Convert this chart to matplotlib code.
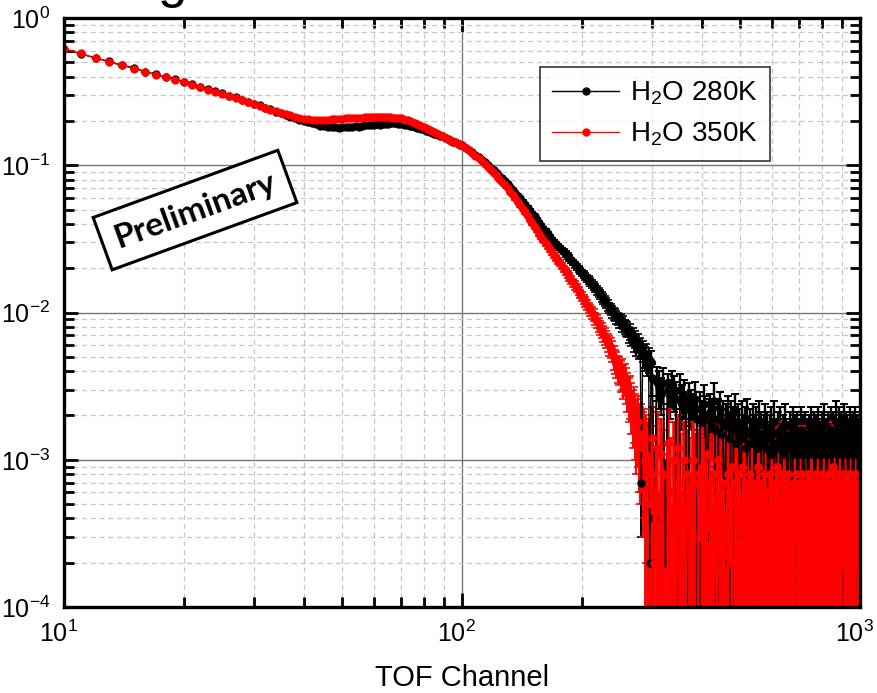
import numpy as np
import matplotlib
matplotlib.use("Agg")
import matplotlib.pyplot as plt
import matplotlib.transforms as mtransforms
from matplotlib.ticker import LogLocator, NullFormatter

# TOF channels: every channel below 100, thinned above
ch_front = np.arange(10, 100)
ch_mid = np.arange(100, 300, 2)
ch_tail = np.arange(300, 1001, 4)

# ---- H2O 280K (front in 1e-3, mid/tail in 1e-4) ----
k280_front = [612, 572, 534, 508, 476, 460, 431, 416, 396, 386,
              367, 357, 340, 331, 317, 309, 296, 289, 278, 271,
              260, 255, 245, 240, 231, 227, 219, 214, 209, 204,
              200, 196, 193, 190, 186, 184, 183, 181, 182, 180,
              181, 182, 181, 183, 184, 183, 185, 187, 188, 187,
              189, 190, 189, 191, 192, 191, 193, 194, 193, 192,
              191, 190, 188, 187, 185, 184, 182, 180, 178, 177,
              175, 172, 170, 168, 166, 164, 162, 160, 158, 157,
              155, 153, 151, 149, 147, 145, 143, 141, 139, 137]
k280_mid = [1370, 1320, 1275, 1230, 1180, 1135, 1090, 1045, 1000, 965,
            925, 890, 850, 815, 780, 745, 710, 680, 650, 620,
            595, 565, 540, 515, 492, 470, 450, 428, 408, 390,
            372, 356, 340, 325, 312, 300, 290, 282, 275, 266,
            258, 250, 242, 234, 226, 219, 212, 204, 198, 192,
            186, 181, 176, 171, 166, 161, 157, 152, 147, 142,
            137, 133, 128, 124, 120, 116, 112, 108, 105, 101,
            98, 96, 93, 91, 87, 88, 83, 86, 80, 78,
            77, 71, 74, 68, 70, 63, 66, 60, 62, 57,
            58, 7, 55, 51, 49, 52, 46, 48, 2, 46]
k280_tail = [36, 4, 34, 31, 28, 33, 2, 30, 27, 31,
             29, 26, -3, 30, 24, 27, 22, 1, 25, 23,
             21, 26, 19, -2, 22, 18, 24, 20, 3, 19,
             21, 17, 25, 16, -4, 19, 22, 15, 18, 2,
             17, 20, 14, 18, -1, 16, 21, 13, 17, 15,
             3, 18, 14, 16, 12, 19, -2, 15, 13, 17,
             14, 1, 16, 12, 18, 13, 15, -3, 14, 17,
             12, 15, 2, 14, 16, 11, 13, 18, -1, 12,
             15, 13, 16, 0, 12, 14, 11, 17, 13, 4,
             12, 15, 13, -2, 16, 11, 14, 12, 15, 1,
             13, 11, 16, 12, 14, -3, 12, 15, 11, 13,
             2, 14, 12, 16, 11, 13, 15, 0, 12, 14,
             11, 16, 13, 12, -2, 15, 11, 14, 17, 12,
             13, 3, 15, 12, 14, 11, 16, -1, 13, 15,
             12, 14, 18, 11, 2, 13, 16, 12, 15, 11,
             14, -2, 13, 17, 12, 15, 11, 14, 1, 13,
             16, 12, 14, 11, 15, 0, 13, 12, 16, 11,
             14, 12, -1, 13, 15, 12]

# ---- H2O 350K ----
k350_front = [620, 575, 535, 503, 476, 452, 431, 412, 395, 380,
              365, 352, 339, 327, 316, 305, 295, 286, 277, 269,
              261, 253, 246, 239, 233, 228, 223, 218, 214, 210,
              207, 205, 204, 203, 203, 203, 204, 205, 205, 206,
              207, 208, 208, 209, 210, 210, 211, 212, 212, 213,
              213, 213, 214, 213, 213, 212, 212, 211, 210, 209,
              208, 206, 204, 202, 200, 197, 194, 191, 188, 185,
              182, 179, 176, 173, 170, 168, 165, 162, 160, 158,
              155, 153, 151, 149, 147, 145, 143, 141, 139, 137]
k350_mid = [1370, 1315, 1265, 1215, 1165, 1115, 1070, 1025, 980, 935,
            892, 850, 810, 770, 735, 698, 662, 628, 596, 565,
            535, 506, 479, 453, 428, 405, 383, 363, 344, 327,
            310, 295, 281, 268, 256, 245, 235, 225, 216, 207,
            198, 190, 182, 175, 167, 160, 153, 147, 140, 134,
            128, 123, 118, 113, 108, 104, 100, 96, 91, 87,
            83, 79, 76, 72, 69, 66, 63, 60, 58, 55,
            50, 47, 45, 42, 41, 38, 39, 35, 36, 33,
            30, 27, 28, 24, 21, 22, 19, 17, 18, 15,
            14, 15, 12, 13, 10, 11, 9, 10, 5, 8]
k350_tail = [14, 2, 12, -2, 11, 8, 0, 13, 6, -3,
             10, 1, 12, 7, -2, 10, 1, 8, 6, 0,
             10, 7, -2, 8, 3, 9, -4, 6, 11, 0,
             7, -3, 8, 5, 1, 10, 6, -2, 7, 4,
             -1, 8, 6, 2, 9, -3, 7, 5, 0, 8,
             5, -2, 9, 6, 1, 7, -3, 8, 5, 2,
             7, 0, 6, 9, -3, 5, 7, 1, 8, -2,
             6, 5, -1, 8, 5, 2, 7, -3, 6, 9,
             1, 7, 5, -2, 8, 5, 0, 6, 7, -3,
             8, 4, 6, 1, 7, -2, 5, 8, 3, 6,
             -1, 7, 5, 8, 0, 6, -3, 7, 5, 2,
             8, -2, 6, 5, 1, 7, 5, -3, 8, 4,
             6, 0, 7, 5, -2, 8, 5, 1, 6, 7,
             -3, 5, 8, 2, 6, 5, -1, 7, 9, 0,
             6, 5, 7, -2, 5, 8, 1, 6, -3, 7,
             5, 2, 8, 5, -1, 6, 7, 0, 5, 8,
             -2, 6, 5, 7, 1, 5, -3, 8, 6, 2,
             7, 5, -1, 6, 8, 5]

# ---- errors (front in 1e-3, mid/tail in 1e-4) ----
err_front = [5, 5, 5, 4, 4, 4, 4, 4, 4, 4,
             4, 4, 4, 4, 3, 3, 3, 3, 3, 3,
             3, 3, 3, 3, 3, 3, 3, 3, 3, 3,
             3, 3, 3, 3, 3, 3, 3, 3, 3, 3,
             3, 3, 3, 3, 3, 3, 3, 3, 3, 3,
             3, 3, 3, 3, 3, 3, 3, 3, 3, 3,
             3, 3, 3, 3, 3, 3, 3, 3, 3, 3,
             2, 2, 2, 2, 2, 2, 2, 2, 2, 2,
             2, 2, 2, 2, 2, 2, 2, 2, 2, 2]
k280_err_mid = [16, 16, 16, 15, 15, 15, 15, 15, 14, 14,
                14, 14, 14, 14, 13, 13, 13, 13, 13, 13,
                12, 12, 12, 12, 12, 12, 12, 11, 11, 11,
                11, 11, 11, 11, 11, 10, 10, 10, 10, 10,
                10, 10, 10, 10, 10, 10, 10, 10, 10, 10,
                10, 10, 10, 10, 10, 10, 10, 10, 10, 10,
                10, 10, 10, 9, 9, 9, 9, 9, 9, 9,
                9, 9, 9, 9, 9, 9, 9, 9, 9, 9,
                9, 9, 9, 9, 9, 9, 9, 9, 9, 9,
                9, 4, 9, 9, 9, 9, 9, 9, 9, 9]
k350_err_mid = [16, 16, 16, 15, 15, 15, 15, 15, 14, 14,
                14, 14, 14, 13, 13, 13, 13, 13, 12, 12,
                12, 12, 12, 11, 11, 11, 11, 11, 11, 10,
                10, 10, 10, 10, 10, 10, 10, 10, 10, 10,
                10, 10, 10, 10, 10, 10, 10, 9, 9, 9,
                9, 9, 9, 9, 9, 9, 9, 9, 9, 9,
                9, 9, 9, 9, 9, 9, 9, 9, 9, 9,
                9, 9, 9, 9, 9, 9, 9, 9, 9, 9,
                9, 9, 9, 9, 9, 9, 9, 9, 9, 9,
                9, 9, 9, 9, 9, 9, 9, 9, 9, 9]
k280_err_tail = [9, 8, 9, 9, 8, 9, 8, 8, 8, 9,
                 8, 8, 7, 8, 8, 8, 7, 7, 8, 7,
                 7, 8, 7, 7, 7, 7, 8, 7, 7, 7,
                 7, 7, 8, 7, 7, 7, 7, 7, 7, 6,
                 7, 7, 6, 7, 6, 7, 7, 6, 7, 7,
                 6, 7, 6, 7, 6, 7, 6, 7, 6, 7,
                 6, 6, 7, 6, 7, 6, 6, 6, 6, 7,
                 6, 6, 6, 6, 7, 6, 6, 7, 6, 6,
                 6, 6, 7, 6, 6, 6, 6, 7, 6, 6,
                 6, 6, 6, 6, 7, 6, 6, 6, 6, 6,
                 6, 6, 7, 6, 6, 6, 6, 6, 6, 6,
                 6, 6, 6, 7, 6, 6, 6, 6, 6, 6,
                 6, 7, 6, 6, 6, 6, 6, 6, 7, 6,
                 6, 6, 6, 6, 6, 6, 7, 6, 6, 6,
                 6, 6, 7, 6, 6, 6, 7, 6, 6, 6,
                 6, 6, 6, 7, 6, 6, 6, 6, 6, 6,
                 7, 6, 6, 6, 6, 6, 6, 6, 7, 6,
                 6, 6, 6, 6, 6, 6]
k350_err_tail = [9, 8, 9, 8, 8, 8, 8, 9, 8, 8,
                 8, 8, 8, 8, 8, 8, 8, 8, 8, 8,
                 8, 8, 8, 8, 8, 8, 8, 8, 8, 8,
                 8, 8, 8, 8, 8, 9, 8, 8, 8, 8,
                 8, 8, 8, 8, 8, 8, 8, 8, 8, 8,
                 8, 8, 9, 8, 8, 8, 8, 8, 8, 8,
                 8, 8, 8, 8, 8, 8, 8, 8, 8, 8,
                 8, 8, 8, 8, 8, 8, 8, 8, 8, 9,
                 8, 8, 8, 8, 8, 8, 8, 8, 8, 8,
                 8, 8, 8, 8, 8, 8, 8, 8, 8, 8,
                 8, 8, 8, 9, 8, 8, 8, 8, 8, 8,
                 8, 8, 8, 8, 8, 8, 8, 8, 8, 8,
                 8, 8, 8, 8, 8, 8, 8, 8, 8, 8,
                 8, 8, 8, 8, 8, 8, 8, 8, 9, 8,
                 8, 8, 8, 8, 8, 8, 8, 8, 8, 8,
                 8, 8, 8, 8, 8, 8, 8, 8, 8, 8,
                 8, 8, 8, 8, 8, 8, 8, 8, 8, 8,
                 8, 8, 8, 8, 8, 8]

labels = ["H$_2$O 280K", "H$_2$O 350K"]
colors = ["black", "red"]
tail_width = [1.7, 2.6]  # error-bar width in the packed tail


def join(front, mid, tail):
    return np.concatenate([np.array(front) * 1e-3,
                           np.array(mid) * 1e-4,
                           np.array(tail) * 1e-4])


x = np.concatenate([ch_front, ch_mid, ch_tail])
y280 = join(k280_front, k280_mid, k280_tail)
y350 = join(k350_front, k350_mid, k350_tail)
e280 = join(err_front, k280_err_mid, k280_err_tail)
e350 = join(err_front, k350_err_mid, k350_err_tail)
nt = len(ch_tail) + 1  # tail part, incl. the last mid point

plt.rcParams["font.family"] = ["Liberation Sans", "DejaVu Sans"]
plt.rcParams["mathtext.default"] = "regular"

fig = plt.figure(figsize=(8.77, 6.93), dpi=100)
ax = fig.add_axes([0.073, 0.124, 0.908, 0.850])
ax.set_xscale("log")
ax.set_yscale("log")

handles = []
for yv, ev, c, tw in [(y280, e280, colors[0], tail_width[0]),
                      (y350, e350, colors[1], tail_width[1])]:
    eb = ax.errorbar(x, yv, yerr=ev, color=c, ecolor=c, marker="o", ms=5,
                     lw=1.0, elinewidth=1.4, capsize=3, capthick=1.2)
    handles.append(eb[0])
    # the noisy tail is so packed with channels that it reads as a filled band
    ax.errorbar(x[-nt:], yv[-nt:], yerr=ev[-nt:], color=c, ecolor=c, marker="o",
                ms=5, lw=tw * 0.7, elinewidth=tw, capsize=3, capthick=1.2)

ax.set_xlim(10, 1000)
ax.set_ylim(1e-4, 1)

ax.xaxis.set_minor_locator(LogLocator(base=10, subs=np.arange(2, 10)))
ax.yaxis.set_minor_locator(LogLocator(base=10, subs=np.arange(2, 10)))
ax.xaxis.set_minor_formatter(NullFormatter())
ax.yaxis.set_minor_formatter(NullFormatter())

ax.grid(which="major", color="#767676", lw=1.0, ls="-")
ax.grid(which="minor", color="#c6c6c6", lw=0.9, ls=(0, (4, 3)))
ax.set_axisbelow(True)

for s in ax.spines.values():
    s.set_linewidth(2.4)
ax.tick_params(which="both", direction="in", top=True, right=True, width=2.0)
ax.tick_params(which="major", length=10, labelsize=18, pad=10)
ax.tick_params(which="minor", length=7)

# x tick labels sit a little left of their ticks in the original
shift = mtransforms.ScaledTranslation(-6 / 100, 0, fig.dpi_scale_trans)
for lab in ax.get_xticklabels():
    lab.set_transform(lab.get_transform() + shift)

ax.set_xlabel("TOF Channel", fontsize=21, labelpad=12)

leg = ax.legend(handles, labels, loc="upper right", bbox_to_anchor=(0.887, 0.917),
                borderaxespad=0, fontsize=20, frameon=True, fancybox=False,
                edgecolor="black", handlelength=2.4, handletextpad=0.4,
                borderpad=0.45, labelspacing=0.5)
leg.get_frame().set_linewidth(1.2)

ax.text(0.1645, 0.674, "Preliminary", transform=ax.transAxes, rotation=20,
        rotation_mode="anchor", ha="center", va="center", fontsize=24,
        fontweight="bold", family=["Lato", "DejaVu Sans"],
        bbox=dict(boxstyle="square,pad=0.4", fc="white", ec="black", lw=2.2))

# bottom of a cropped heading above the figure
fig.text(0.197, 1.004, "g", fontsize=38, ha="center", va="baseline")

fig.savefig("out.png", dpi=100)
